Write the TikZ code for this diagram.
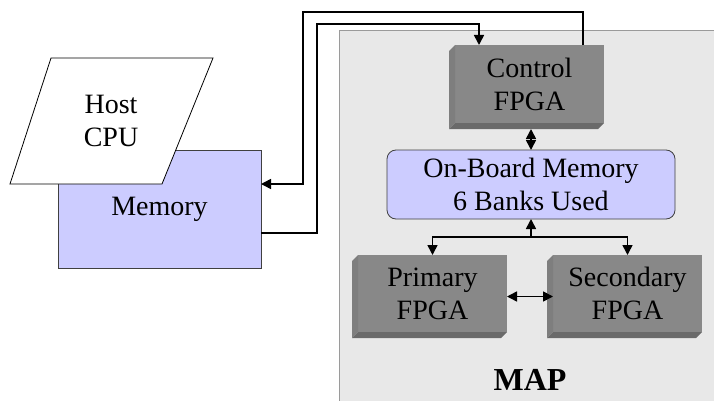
\documentclass[tikz,border=0pt]{standalone}
\usepackage{fontspec}
\setmainfont{Liberation Serif}
\usetikzlibrary{arrows.meta}

\definecolor{mapgray}{HTML}{E8E8E8}
\definecolor{mapedge}{HTML}{9A9A9A}
\definecolor{lav}{HTML}{CCCCFF}
\definecolor{chipfront}{HTML}{888888}
\definecolor{chipleft}{HTML}{7E7E7E}
\definecolor{chipbottom}{HTML}{6A6A6A}

% side faces of a chip block, drawn below and left of its front face
\newcommand\cubesides[1]{%
  \fill[chipleft] (#1.north west) -- ++(-6,6) -- ([shift={(-6,6)}]#1.south west) -- (#1.south west) -- cycle;
  \fill[chipbottom] (#1.south west) -- ++(-6,6) -- ([shift={(-6,6)}]#1.south east) -- (#1.south east) -- cycle;
}

\tikzset{
  lbl/.style={font=\fontsize{28}{33}\selectfont, align=center, inner sep=0pt},
  chip/.style={lbl, fill=chipfront, minimum width=149pt, minimum height=77pt, outer sep=0pt},
  membox/.style={lbl, fill=lav, draw=black!75, line width=0.8pt, outer sep=0pt},
  link/.style={line width=1.6pt, -{Triangle[length=10pt,width=10pt]}},
  dlink/.style={line width=1.6pt, {Triangle[length=10pt,width=10pt]}-{Triangle[length=10pt,width=10pt]}},
}

\begin{document}
\begin{tikzpicture}[x=1pt, y=-1pt]
\useasboundingbox (0,0) rectangle (714,401);

% MAP board
\node (map) [anchor=north west, fill=mapgray, draw=mapedge, line width=1.2pt,
  minimum width=380pt, minimum height=372pt, inner sep=0pt] at (339,30) {};
\node (maplabel) [anchor=base, font=\fontsize{32}{36}\selectfont\bfseries] at (530,390) {MAP};

% host side
\node (memory) [membox, minimum width=203pt, minimum height=118pt] at (159.5,209) {Memory};
\draw[fill=white, line width=0.8pt] (10,184) -- (162,184) -- (213,58) -- (51,58) -- cycle;
\node (host) [lbl] at (111,121) {Host\\CPU};

% chips on the board
\node (ctrl) [chip, minimum height=78pt] at (529.5,84) {Control\\FPGA};
\cubesides{ctrl}
\node (primary) [chip] at (432.5,293.5) {Primary\\FPGA};
\cubesides{primary}
\node (secondary) [chip] at (627.5,293.5) {Secondary\\FPGA};
\cubesides{secondary}

\node (onboard) [membox, rounded corners=9pt, minimum width=288pt, minimum height=69pt]
  at (531,184.5) {On-Board Memory\\6 Banks Used};

% links on the board
\draw[dlink] ([shift={(1.5,6)}]ctrl.south) -- (onboard.north);
\coordinate (junc) at (531,237);
\draw[link] (junc) -- (onboard.south);
\draw[link] (junc) -| (primary.north);
\draw[link] (junc) -| (secondary.north);
\draw[dlink] ([yshift=-3pt]primary.east) -- ([yshift=-3pt]secondary.west);

% links between host memory and the control chip
\coordinate (outA) at (583,12);
\coordinate (outB) at (303,12);
\coordinate (inB) at (317,24);
\draw[link] (ctrl.north -| outA) |- (outB) |- ([yshift=25pt]memory.east);
\draw[link] ([yshift=-24pt]memory.east) -| (inB) -| ([xshift=-50.5pt]ctrl.north);
\end{tikzpicture}
\end{document}
